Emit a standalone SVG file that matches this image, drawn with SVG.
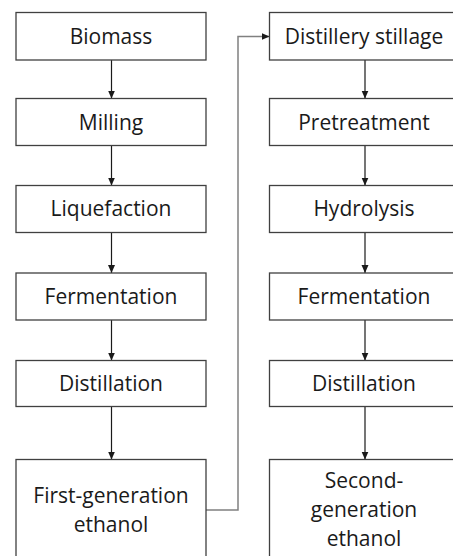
<svg xmlns="http://www.w3.org/2000/svg" width="453" height="556" viewBox="0 0 453 556">
<style>
.box{fill:#fff;stroke:#404040;stroke-width:1.3}
.t{font-family:"Open Sans","Liberation Sans",sans-serif;font-size:21px;fill:#1a1a1a;text-anchor:middle}
.c{fill:none;stroke:#1a1a1a;stroke-width:1.2}
.g{fill:none;stroke:#808080;stroke-width:1.5}
</style>
<defs>
<marker id="ah" viewBox="0 0 8 8" refX="8" refY="4" markerWidth="8" markerHeight="8" markerUnits="userSpaceOnUse" orient="auto">
<path d="M0,0.5 L8,4 L0,7.5 Z" fill="#1a1a1a"/>
</marker>
</defs>
<rect width="453" height="556" fill="#fff"/>
<g id="connectors">
<path class="c" d="M111.5,60 V98.5" marker-end="url(#ah)"/>
<path class="c" d="M111.5,145.5 V185.5" marker-end="url(#ah)"/>
<path class="c" d="M111.5,232.5 V273" marker-end="url(#ah)"/>
<path class="c" d="M111.5,320 V360.5" marker-end="url(#ah)"/>
<path class="c" d="M111.5,406.5 V459.5" marker-end="url(#ah)"/>
<path class="c" d="M365,60 V98.5" marker-end="url(#ah)"/>
<path class="c" d="M365,145.5 V185.5" marker-end="url(#ah)"/>
<path class="c" d="M365,232.5 V273" marker-end="url(#ah)"/>
<path class="c" d="M365,320 V360.5" marker-end="url(#ah)"/>
<path class="c" d="M365,406.5 V459.5" marker-end="url(#ah)"/>
<path class="g" d="M206,510 H238 V36.5 H269.5" marker-end="url(#ah)"/>
</g>
<g id="biomass"><rect class="box" x="16" y="12.5" width="190" height="47.5"/><text class="t" x="111" y="43.5">Biomass</text></g>
<g id="milling"><rect class="box" x="16" y="98.5" width="190" height="47"/><text class="t" x="111" y="129.5">Milling</text></g>
<g id="liquefaction"><rect class="box" x="16" y="185.5" width="190" height="47"/><text class="t" x="111" y="216">Liquefaction</text></g>
<g id="fermentation1"><rect class="box" x="16" y="273" width="190" height="47"/><text class="t" x="111" y="304">Fermentation</text></g>
<g id="distillation1"><rect class="box" x="16" y="360.5" width="190" height="46"/><text class="t" x="111" y="391">Distillation</text></g>
<g id="first-gen"><rect class="box" x="16" y="459.5" width="190" height="110"/><text class="t" x="111" y="503">First-generation</text><text class="t" x="111" y="532">ethanol</text></g>
<g id="stillage"><rect class="box" x="269.5" y="12.5" width="190" height="47.5"/><text class="t" x="364" y="43.5">Distillery stillage</text></g>
<g id="pretreatment"><rect class="box" x="269.5" y="98.5" width="190" height="47"/><text class="t" x="364" y="129.5">Pretreatment</text></g>
<g id="hydrolysis"><rect class="box" x="269.5" y="185.5" width="190" height="47"/><text class="t" x="364" y="216">Hydrolysis</text></g>
<g id="fermentation2"><rect class="box" x="269.5" y="273" width="190" height="47"/><text class="t" x="364" y="304">Fermentation</text></g>
<g id="distillation2"><rect class="box" x="269.5" y="360.5" width="190" height="46"/><text class="t" x="364" y="391">Distillation</text></g>
<g id="second-gen"><rect class="box" x="269.5" y="459.5" width="190" height="110"/><text class="t" x="364" y="488">Second-</text><text class="t" x="364" y="517">generation</text><text class="t" x="364" y="546">ethanol</text></g>
</svg>
